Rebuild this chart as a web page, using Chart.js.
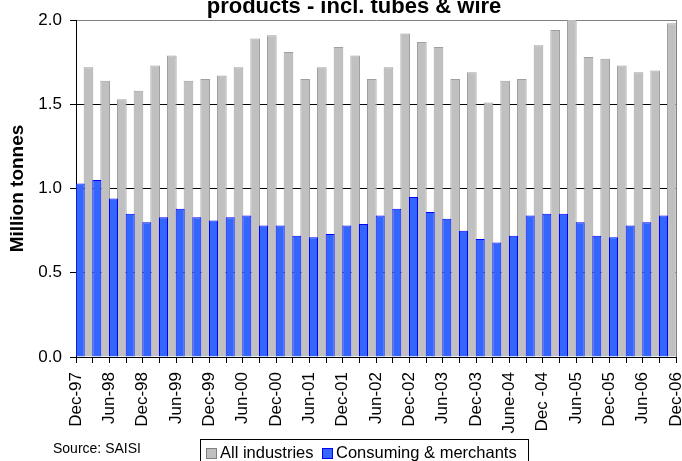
<!DOCTYPE html>
<html>
<head>
<meta charset="utf-8">
<script src="https://cdn.jsdelivr.net/npm/chart.js@4.4.1/dist/chart.umd.min.js"></script>
<style>
  html, body { margin: 0; padding: 0; background: #fff; }
  #wrap { position: relative; width: 682px; height: 461px; overflow: hidden; font-family: 'Liberation Sans', Arial, sans-serif; }
  #title { position: absolute; left: 354px; top: -5px; transform: translateX(-50%); font-weight: bold; font-size: 22px; line-height: 22px; white-space: nowrap; color: #000; }
  #source { position: absolute; left: 53px; top: 441px; font-size: 14px; line-height: 14px; color: #000; }
  #legend { position: absolute; left: 200px; top: 439px; width: 327px; height: 30px; border: 1px solid #000; background: #fff; }
  #legend .box { position: absolute; top: 8px; width: 9px; height: 9px; }
  #legend .txt { position: absolute; top: 4px; font-size: 16.5px; line-height: 16.5px; white-space: nowrap; color: #000; }
</style>
</head>
<body>
<div id="wrap">
  <canvas id="chart" width="682" height="461"></canvas>
  <div id="title">products - incl. tubes &amp; wire</div>
  <div id="source">Source: SAISI</div>
  <div id="legend">
    <span class="box" style="left:5px;background:#c0c0c0;border:1px solid #808080"></span>
    <span class="txt" style="left:19px">All industries</span>
    <span class="box" style="left:121px;background:#3366ff;border:1px solid #0000ff"></span>
    <span class="txt" style="left:135px">Consuming &amp; merchants</span>
  </div>
</div>
<script>
// quarters shown as bars (36 of them, Mar-98 .. Dec-06)
const quarters = ['Mar-98','Jun-98','Sep-98','Dec-98','Mar-99','Jun-99','Sep-99','Dec-99',
  'Mar-00','Jun-00','Sep-00','Dec-00','Mar-01','Jun-01','Sep-01','Dec-01',
  'Mar-02','Jun-02','Sep-02','Dec-02','Mar-03','Jun-03','Sep-03','Dec-03',
  'Mar-04','Jun-04','Sep-04','Dec-04','Mar-05','Jun-05','Sep-05','Dec-05',
  'Mar-06','Jun-06','Sep-06','Dec-06'];

// million tonnes
const allIndustries = [1.72,1.64,1.53,1.58,1.73,1.79,1.64,1.65,1.67,1.72,1.89,1.91,
  1.81,1.65,1.72,1.84,1.79,1.65,1.72,1.92,1.87,1.84,1.65,1.69,
  1.51,1.64,1.65,1.85,1.94,2.02,1.78,1.77,1.73,1.69,1.70,1.98];
const consumingMerchants = [1.03,1.05,0.94,0.85,0.80,0.83,0.88,0.83,0.81,0.83,0.84,0.78,
  0.78,0.72,0.71,0.73,0.78,0.79,0.84,0.88,0.95,0.86,0.82,0.75,
  0.70,0.68,0.72,0.84,0.85,0.85,0.80,0.72,0.71,0.78,0.80,0.84];

// labels sit on every second quarter boundary
const xTickLabels = ['Dec-97','Jun-98','Dec-98','Jun-99','Dec-99','Jun-00','Dec-00','Jun-01',
  'Dec-01','Jun-02','Dec-02','Jun-03','Dec-03','June-04','Dec -04','Jun-05','Dec-05','Jun-06','Dec-06'];
const yTicks = [0, 0.5, 1.0, 1.5, 2.0];

const FONT = "'Liberation Sans', Arial, sans-serif";

const toPoints = (vals) => vals.map((v, i) => ({ x: i + 0.5, y: v, q: quarters[i] }));

// gray frame on the right of the plot area
const frame = {
  id: 'frame',
  beforeDatasetsDraw: (chart) => {
    const { ctx, chartArea: a } = chart;
    ctx.save();
    ctx.strokeStyle = '#808080';
    ctx.lineWidth = 1;
    ctx.beginPath();
    ctx.moveTo(a.right + 0.5, a.top);
    ctx.lineTo(a.right + 0.5, a.bottom);
    ctx.stroke();
    ctx.restore();
  }
};

new Chart(document.getElementById('chart'), {
  type: 'bar',
  data: {
    datasets: [
      {
        label: 'All industries',
        data: toPoints(allIndustries),
        backgroundColor: '#c0c0c0',
        borderColor: '#a0a0a0',
        borderWidth: 1,
        barPercentage: 1.16,
        categoryPercentage: 1,
        order: 1
      },
      {
        label: 'Consuming & merchants',
        data: toPoints(consumingMerchants),
        backgroundColor: '#3366ff',
        borderColor: '#0000ff',
        borderWidth: 1,
        barPercentage: 1.08,
        categoryPercentage: 1,
        order: 0
      }
    ]
  },
  options: {
    responsive: false,
    animation: false,
    layout: { padding: { left: 0, top: 20, right: 6, bottom: 0 } },
    plugins: { legend: { display: false }, tooltip: { enabled: false } },
    scales: {
      x: {
        type: 'linear',
        min: 0,
        max: quarters.length,
        offset: false,
        afterFit: (s) => { s.height = 104; s.paddingLeft = 0; s.paddingRight = 0; },
        grid: { offset: false, drawOnChartArea: false, drawTicks: true, tickLength: 6, tickColor: '#000' },
        border: { display: true, color: '#000', width: 1 },
        afterBuildTicks: (s) => {
          s.ticks = [];
          for (let i = 0; i <= quarters.length; i++) s.ticks.push({ value: i });
        },
        ticks: {
          autoSkip: false,
          minRotation: 90,
          maxRotation: 90,
          padding: 9,
          color: '#000',
          font: { family: FONT, size: 17 },
          callback: (v) => (v % 2 === 0 ? xTickLabels[v / 2] : '')
        }
      },
      y: {
        min: 0,
        max: 2,
        afterFit: (s) => { s.width = 76; },
        afterBuildTicks: (s) => { s.ticks = yTicks.map((v) => ({ value: v })); },
        grid: {
          color: (c) => (c.tick && c.tick.value === 2 ? '#808080' : '#000'),
          lineWidth: 1,
          drawTicks: true,
          tickLength: 6,
          tickColor: '#000'
        },
        border: { display: true, color: '#000', width: 1 },
        title: {
          display: true,
          text: 'Million tonnes',
          color: '#000',
          font: { family: FONT, size: 19, weight: 'bold' },
          padding: { top: 6, bottom: 0 }
        },
        ticks: {
          padding: 8,
          color: '#000',
          font: { family: FONT, size: 17 },
          callback: (v) => v.toFixed(1)
        }
      }
    }
  },
  plugins: [frame]
});
</script>
</body>
</html>
